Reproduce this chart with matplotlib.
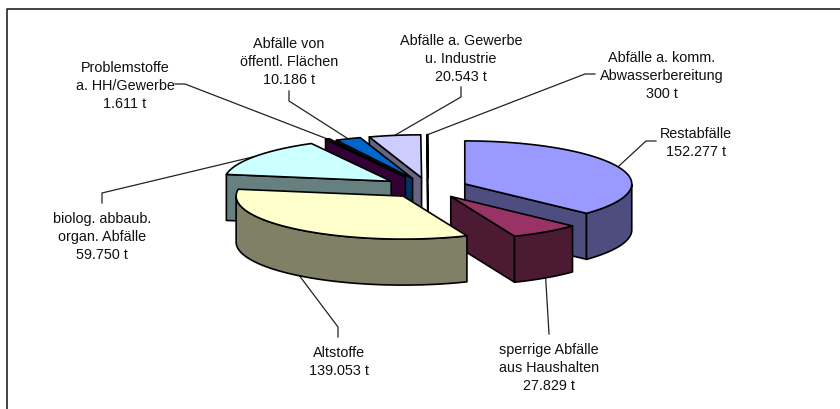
import numpy as np
import matplotlib
matplotlib.use('Agg')
import matplotlib.pyplot as plt
from matplotlib.patches import Polygon

# values in tonnes, clockwise from 12 o'clock
names = ['Restabfälle', 'sperrige Abfälle\naus Haushalten', 'Altstoffe',
         'biolog. abbaub.\norgan. Abfälle', 'Problemstoffe\na. HH/Gewerbe',
         'Abfälle von\nöffentl. Flächen', 'Abfälle a. Gewerbe\nu. Industrie',
         'Abfälle a. komm.\nAbwasserbereitung']
values = [152277, 27829, 139053, 59750, 1611, 10186, 20543, 300]
value_labels = ['152.277 t', '27.829 t', '139.053 t', '59.750 t',
                '1.611 t', '10.186 t', '20.543 t', '300 t']
top_colors = ['#9999FF', '#993366', '#FFFFCC', '#CCFFFF', '#660066', '#0066CC', '#CCCCFF', '#FFFFFF']
side_colors = ['#4D4D80', '#4D1A33', '#808066', '#668080', '#330033', '#003366', '#666680', '#808080']

# back to front
draw_order = [7, 6, 5, 4, 3, 0, 1, 2]

# pie layout, in pixels
hub_x, hub_y = 428, 189
rx, ry = 167, 43
depth = 46
explode = [0.24, 0.24, 0.24, 0.27, 0.29, 0.24, 0.24, 0.24]

# label centres and leader knees, in pixels
label_pos = [(696, 143), (549, 368), (339, 362), (102, 237), (125, 86), (289, 62), (461, 59), (662, 76)]
knees = [[(646, 142), (656, 142)],
         [(549, 335)],
         [(338, 328), (338, 338)],
         [(102, 194), (102, 204)],
         [(185, 85), (175, 85)],
         [(289, 102), (289, 92)],
         [(461, 98), (461, 88)],
         [(585, 75), (595, 75)]]

plt.rcParams['font.family'] = ['Liberation Sans', 'DejaVu Sans']

fig = plt.figure(figsize=(8.4, 4.1), dpi=100)
ax = fig.add_axes([0, 0, 1, 1])
ax.set_xlim(0, 840)
ax.set_ylim(410, 0)
ax.axis('off')

# frame, only left and top are inside the picture
ax.plot([7, 7, 840], [410, 10, 10], color='#111111', lw=1.1, zorder=1)


def arc_point(theta):
    return rx * np.sin(theta), -ry * np.cos(theta)


edges = np.cumsum([0] + values) / sum(values) * 2 * np.pi
z = 2
for i in draw_order:
    t0, t1 = edges[i], edges[i + 1]
    mid = (t0 + t1) / 2
    ox, oy = arc_point(mid)
    ax_x, ax_y = hub_x + explode[i] * ox, hub_y + explode[i] * oy

    steps = np.linspace(t0, t1, max(int(np.degrees(t1 - t0)), 2))
    px, py = arc_point(steps)
    px, py = ax_x + px, ax_y + py
    style = dict(edgecolor='black', lw=1.2, joinstyle='round')

    # cut faces
    if np.sin(t0) < 0:
        ax.add_patch(Polygon([(px[0], py[0]), (ax_x, ax_y), (ax_x, ax_y + depth), (px[0], py[0] + depth)],
                             facecolor=side_colors[i], zorder=z, **style))
    if np.sin(t1) > 0:
        ax.add_patch(Polygon([(px[-1], py[-1]), (ax_x, ax_y), (ax_x, ax_y + depth), (px[-1], py[-1] + depth)],
                             facecolor=side_colors[i], zorder=z, **style))

    # outer wall, only the part facing the viewer
    front = np.cos(steps) <= 0
    if front.sum() > 1:
        wall_top = np.column_stack([px[front], py[front]])
        wall_bot = np.column_stack([px[front], py[front] + depth])[::-1]
        ax.add_patch(Polygon(np.vstack([wall_top, wall_bot]),
                             facecolor=side_colors[i], zorder=z, **style))

    # top face
    ax.add_patch(Polygon(np.vstack([[(ax_x, ax_y)], np.column_stack([px, py])]),
                         facecolor=top_colors[i], zorder=z, **style))
    z += 1

    # leader starts on the rim at the middle of the slice
    lx, ly = ax_x + ox, ax_y + oy
    if np.cos(mid) < 0:
        ly += depth
    path = [(lx, ly)] + knees[i]
    ax.plot([p[0] for p in path], [p[1] for p in path], color='#222222', lw=0.9, zorder=1.5)

    ax.text(label_pos[i][0], label_pos[i][1], names[i] + '\n' + value_labels[i],
            ha='center', va='center', fontsize=10.4, color='#111111',
            linespacing=1.36, multialignment='center', zorder=50)

fig.savefig('out.png', dpi=100, facecolor='white')
